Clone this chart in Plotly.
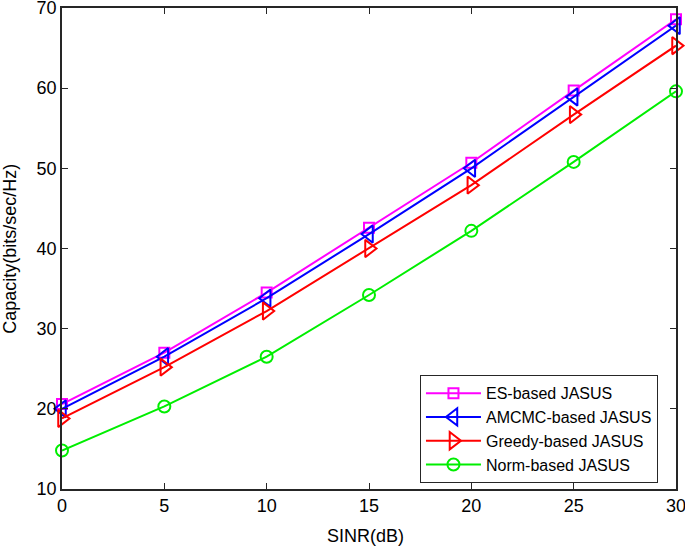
import plotly.graph_objects as go

sinr = [0, 5, 10, 15, 20, 25, 30]
es = [20.6, 27.0, 34.5, 42.6, 50.7, 59.7, 68.6]
amcmc = [20.0, 26.5, 33.8, 41.8, 50.0, 58.9, 67.8]
greedy = [18.8, 25.2, 32.2, 40.0, 47.9, 56.7, 65.3]
norm = [14.8, 20.3, 26.5, 34.2, 42.2, 50.8, 59.6]

names = ["ES-based JASUS", "AMCMC-based JASUS", "Greedy-based JASUS", "Norm-based JASUS"]
series = [es, amcmc, greedy, norm]
colors = ["#ff00ff", "#0000ff", "#ff0000", "#00ee00"]
symbols = ["square-open", "triangle-left-open", "triangle-right-open", "circle-open"]
sizes = [10, 15, 15, 12]

fig = go.Figure()
for n, s, c, sym, sz in zip(names, series, colors, symbols, sizes):
    fig.add_trace(go.Scatter(x=sinr, y=s, name=n, mode="lines+markers",
                             line=dict(color=c, width=2),
                             marker=dict(symbol=sym, size=sz, color=c, line=dict(width=2, color=c)),
                             cliponaxis=False))

axis_common = dict(showline=True, linecolor="#262626", linewidth=1.5, mirror="ticks",
                   ticks="inside", ticklen=6, tickcolor="#262626", showgrid=False, zeroline=False,
                   automargin=False, ticklabeloverflow="allow", tickfont=dict(size=18, color="black"))
fig.update_xaxes(range=[0, 30], tickvals=[0, 5, 10, 15, 20, 25, 30], **axis_common)
fig.update_yaxes(range=[10, 70], tickvals=[10, 20, 30, 40, 50, 60, 70], **axis_common)

fig.add_annotation(text="SINR(dB)", xref="paper", yref="paper", x=0.495, y=-0.097,
                   xanchor="center", yanchor="middle", showarrow=False,
                   font=dict(size=18, color="black"))
fig.add_annotation(text="Capacity(bits/sec/Hz)", xref="paper", yref="paper", x=-0.086, y=0.5,
                   xanchor="center", yanchor="middle", showarrow=False, textangle=-90,
                   font=dict(size=18, color="black"))

fig.update_layout(width=685, height=549, margin=dict(l=62, r=9, t=8, b=60, autoexpand=False),
                  paper_bgcolor="white", plot_bgcolor="white",
                  font=dict(family="Liberation Sans, Arial", color="black"),
                  legend=dict(x=0.583, y=0.012, xanchor="left", yanchor="bottom",
                              bordercolor="#262626", borderwidth=1, bgcolor="white",
                              font=dict(size=16), tracegroupgap=0, itemwidth=55),
                  showlegend=True)
fig.write_html("out.html", config={"displayModeBar": False},
               post_script="document.body.style.margin='0';document.body.style.overflow='hidden';")
